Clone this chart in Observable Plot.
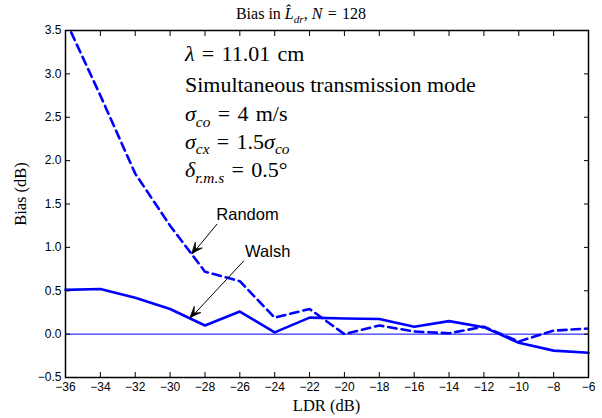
<!DOCTYPE html>
<html><head><meta charset="utf-8">
<script src="https://cdn.jsdelivr.net/npm/d3@7"></script>
<script src="https://cdn.jsdelivr.net/npm/@observablehq/plot@0.6"></script>
<style>
html,body{margin:0;padding:0;background:#fff;}
#chart svg{display:block;}
</style></head><body><div id="chart"></div>
<script>
// ---- data ----
const ldr = [-36,-34,-32,-30,-28,-26,-24,-22,-20,-18,-16,-14,-12,-10,-8,-6];
const walsh = [0.51,0.52,0.42,0.29,0.10,0.26,0.02,0.19,0.18,0.175,0.085,0.15,0.08,-0.10,-0.19,-0.215];
const random = [3.62,2.75,1.85,1.25,0.72,0.61,0.19,0.29,0.00,0.10,0.03,0.01,0.085,-0.085,0.04,0.065];
const xTicks = [-36,-34,-32,-30,-28,-26,-24,-22,-20,-18,-16,-14,-12,-10,-8,-6];
const yTicks = [-0.5,0,0.5,1,1.5,2,2.5,3,3.5];
const annLabels = ["Random","Walsh"];
const annTextX = [-27.32,-25.67];
const annTextY = [1.31,0.88];
const annFromX = [-27.30,-25.77];
const annFromY = [1.27,0.845];
const annToX = [-28.73,-28.83];
const annToY = [0.923,0.185];
const infoX = -29.12;
const infoY = [3.14,2.78,2.45,2.13,1.80];

const blue = "#0000ff";
const serif = "'Liberation Serif', 'Times New Roman', serif";
const sans = "'Liberation Sans', Arial, sans-serif";
const EQ = "\u2004=\u2004";

const walshData = ldr.map((x,i)=>({x, y: walsh[i]}));
const randomData = ldr.map((x,i)=>({x, y: random[i]}));
const arrows = annLabels.map((t,i)=>({x1: annFromX[i], y1: annFromY[i], x2: annToX[i], y2: annToY[i]}));

const noText = () => "";

const chart = Plot.plot({
  width: 602, height: 418,
  marginLeft: 65, marginRight: 14, marginTop: 30, marginBottom: 41,
  x: {domain: [-36,-6]},
  y: {domain: [-0.5,3.5]},
  style: {fontFamily: sans, fontSize: "12px", background: "white", color: "black", overflow: "visible"},
  marks: [
    Plot.ruleY([0], {stroke: blue, strokeWidth: 1}),
    Plot.line(randomData, {x: "x", y: "y", stroke: blue, strokeWidth: 2.6, strokeDasharray: "8.5,5", clip: true}),
    Plot.line(walshData, {x: "x", y: "y", stroke: blue, strokeWidth: 2.6}),
    Plot.link(arrows, {x1: "x1", y1: "y1", x2: "x2", y2: "y2", stroke: "black", strokeWidth: 1}),
    Plot.frame({stroke: "black", strokeWidth: 1.5}),
    // inward ticks on all four sides
    Plot.axisX(xTicks, {anchor: "bottom", tickSize: 5, dy: -5, tickFormat: noText, label: null, strokeWidth: 1}),
    Plot.axisX(xTicks, {anchor: "top", tickSize: 5, dy: 5, tickFormat: noText, label: null, strokeWidth: 1}),
    Plot.axisY(yTicks, {anchor: "left", tickSize: 5, dx: 5, tickFormat: noText, label: null, strokeWidth: 1}),
    Plot.axisY(yTicks, {anchor: "right", tickSize: 5, dx: -5, tickFormat: noText, label: null, strokeWidth: 1}),
    // tick labels
    Plot.axisX(xTicks, {anchor: "bottom", tickSize: 0, tickPadding: 5, label: null, fontSize: 12}),
    Plot.axisY(yTicks, {anchor: "left", tickSize: 0, tickPadding: 4, label: null, fontSize: 12})
  ]
});
document.getElementById("chart").append(chart);

const sx = chart.scale("x"), sy = chart.scale("y");
const svg = d3.select(chart);

// arrowheads (filled, notched) at arrow tips
arrows.forEach(a => {
  const x1 = sx.apply(a.x1), y1 = sy.apply(a.y1), x2 = sx.apply(a.x2), y2 = sy.apply(a.y2);
  const dx = x2 - x1, dy = y2 - y1, len = Math.hypot(dx, dy);
  const ux = dx/len, uy = dy/len, nx = -uy, ny = ux;
  const L = 11, Wd = 4.5;
  const p = [
    [x2, y2],
    [x2 - L*ux + Wd*nx, y2 - L*uy + Wd*ny],
    [x2 - 0.55*L*ux, y2 - 0.55*L*uy],
    [x2 - L*ux - Wd*nx, y2 - L*uy - Wd*ny]
  ];
  svg.append("path").attr("d", "M" + p.map(q => q.join(",")).join("L") + "Z").attr("fill", "black").attr("stroke", "black").attr("stroke-width", 0.8).attr("stroke-linejoin", "miter");
});

// annotation labels
annLabels.forEach((t,i) => {
  svg.append("text").attr("x", sx.apply(annTextX[i])).attr("y", sy.apply(annTextY[i]))
    .attr("text-anchor", "start")
    .attr("font-family", sans).attr("font-size", 16.5).attr("fill", "black").text(t);
});

// rich text with math-like formatting
function richText(parent, x, y, parts, size, anchor) {
  const t = parent.append("text").attr("x", x).attr("y", y).attr("text-anchor", anchor || "start")
    .attr("font-family", serif).attr("font-size", size).attr("fill", "black");
  parts.forEach(p => {
    const s = t.append("tspan").text(p.t);
    if (p.i) s.attr("font-style", "italic");
    if (p.sub) { s.attr("font-size", size*0.7).attr("dy", size*0.25); }
    if (p.after) s.attr("dy", -size*0.25);
  });
  return t;
}
const fs = 22;
const ix = sx.apply(infoX);
richText(svg, ix, sy.apply(infoY[0]), [{t:"λ", i:true},{t:EQ + "11.01\u2004cm"}], fs);
richText(svg, ix, sy.apply(infoY[1]), [{t:"Simultaneous transmission mode"}], fs);
richText(svg, ix, sy.apply(infoY[2]), [{t:"σ", i:true},{t:"co", i:true, sub:true},{t:EQ + "4\u2004m/s", after:true}], fs);
richText(svg, ix, sy.apply(infoY[3]), [{t:"σ", i:true},{t:"cx", i:true, sub:true},{t:EQ + "1.5", after:true},{t:"σ", i:true},{t:"co", i:true, sub:true}], fs);
richText(svg, ix, sy.apply(infoY[4]), [{t:"δ", i:true},{t:"r.m.s", i:true, sub:true},{t:EQ + "0.5°", after:true}], fs);

// title
richText(svg, 301, 19, [{t:"Bias in "},{t:"L̂", i:true},{t:"dr", i:true, sub:true},{t:", ", after:true},{t:"N", i:true},{t:EQ + "128"}], 16, "middle");

// axis labels
svg.append("text").attr("x", (65 + 588)/2).attr("y", 411).attr("text-anchor", "middle")
  .attr("font-family", serif).attr("font-size", 16.5).attr("fill", "black").text("LDR (dB)");
svg.append("text").attr("transform", "translate(26,194) rotate(-90)").attr("text-anchor", "middle")
  .attr("font-family", serif).attr("font-size", 16.5).attr("fill", "black").text("Bias (dB)");
</script>
</body></html>
